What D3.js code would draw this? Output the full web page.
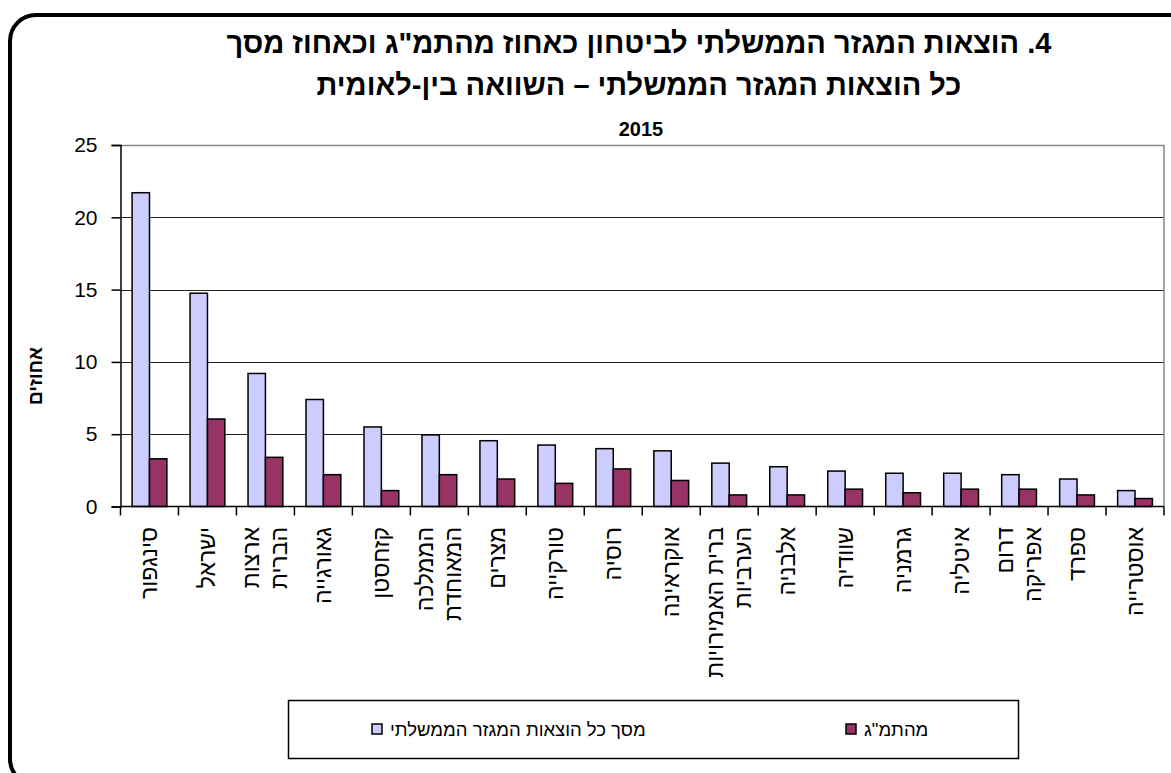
<!DOCTYPE html>
<html>
<head>
<meta charset="utf-8">
<script src="https://cdn.jsdelivr.net/npm/d3@7"></script>
<style>
  body { margin: 0; background: #fff; }
  text { font-family: "Liberation Sans", Arial, "DejaVu Sans", sans-serif; }
</style>
</head>
<body>
<svg id="chart" width="1171" height="773"></svg>
<script>
// countries, in chart order (each entry = lines of the label)
var countries = [
  ['סינגפור'], ['ישראל'], ['ארצות', 'הברית'], ['גאורגייה'], ['קזחסטן'],
  ['הממלכה', 'המאוחדת'], ['מצרים'], ['טורקייה'], ['רוסיה'], ['אוקראינה'],
  ['ברית האמירויות', 'הערביות'], ['אלבניה'], ['שוודיה'], ['גרמניה'],
  ['איטליה'], ['דרום', 'אפריקה'], ['ספרד'], ['אוסטרייה']
];
// % of total government expenditure
var ofGovSpending = [21.7, 14.75, 9.2, 7.4, 5.5, 4.95, 4.55, 4.25, 4.0, 3.85,
  3.0, 2.75, 2.45, 2.3, 2.3, 2.2, 1.9, 1.1];
// % of GDP
var ofGdp = [3.3, 6.05, 3.4, 2.2, 1.1, 2.2, 1.9, 1.6, 2.6, 1.8,
  0.8, 0.8, 1.2, 0.95, 1.2, 1.2, 0.8, 0.55];
var yTicks = [0, 5, 10, 15, 20, 25];
var seriesNames = ['מסך כל הוצאות המגזר הממשלתי', 'מהתמ"ג'];
var seriesColors = ['#ccccff', '#993366'];

var svg = d3.select('#chart');
var plotLeft = 120.5, plotRight = 1164, plotTop = 145, plotBottom = 506.5;

// outer rounded frame
svg.append('rect')
  .attr('x', 10).attr('y', 15)
  .attr('width', 1185).attr('height', 770)
  .attr('rx', 26).attr('ry', 26)
  .attr('fill', 'none').attr('stroke', '#000').attr('stroke-width', 4);

// title
var title = svg.append('text')
  .attr('direction', 'rtl')
  .attr('text-anchor', 'middle')
  .attr('font-weight', 'bold');
title.append('tspan').attr('x', 639).attr('y', 53).attr('font-size', 29)
  .text('4. הוצאות המגזר הממשלתי לביטחון כאחוז מהתמ"ג וכאחוז מסך');
title.append('tspan').attr('x', 639).attr('y', 95).attr('font-size', 29)
  .text('כל הוצאות המגזר הממשלתי – השוואה בין-לאומית');
title.append('tspan').attr('x', 641).attr('y', 136).attr('font-size', 20)
  .text('2015');

var x = d3.scaleBand()
  .domain(d3.range(countries.length))
  .range([plotLeft, plotRight])
  .paddingInner(0.4)
  .paddingOuter(0.2);
var step = x.step();

var y = d3.scaleLinear().domain([0, 25]).range([plotBottom, plotTop]);

// grid lines
svg.append('g').selectAll('line')
  .data(yTicks.filter(function(d) { return d > 0 && d < 25; }))
  .enter().append('line')
  .attr('x1', plotLeft).attr('x2', plotRight)
  .attr('y1', function(d) { return Math.round(y(d)) + 0.5; })
  .attr('y2', function(d) { return Math.round(y(d)) + 0.5; })
  .attr('stroke', '#222').attr('stroke-width', 1);

// plot area top/right border
svg.append('path')
  .attr('d', 'M' + plotLeft + ',' + (plotTop + 0.5) + 'H' + plotRight + 'V' + plotBottom)
  .attr('fill', 'none').attr('stroke', '#888').attr('stroke-width', 1.5);

// bars
var bw = x.bandwidth() / 2;
var series = [ofGovSpending, ofGdp];
series.forEach(function(vals, s) {
  svg.append('g').selectAll('rect')
    .data(vals)
    .enter().append('rect')
    .attr('x', function(d, i) { return x(i) + s * bw; })
    .attr('y', function(d) { return y(d); })
    .attr('width', bw)
    .attr('height', function(d) { return y(0) - y(d); })
    .attr('fill', seriesColors[s])
    .attr('stroke', '#000').attr('stroke-width', 1.5);
});

// y axis
var yAxis = svg.append('g')
  .attr('transform', 'translate(' + plotLeft + ',0)')
  .call(d3.axisLeft(y).tickValues(yTicks).tickSize(9).tickPadding(14));
yAxis.select('.domain').attr('stroke', '#000').attr('stroke-width', 1.5);
yAxis.selectAll('.tick line').attr('stroke', '#000').attr('stroke-width', 1.5);
yAxis.selectAll('.tick text')
  .attr('font-size', 21)
  .style('font-family', '"Liberation Sans", Arial, sans-serif')
  .attr('fill', '#000');

// x axis: ticks between categories
var xBounds = d3.range(countries.length + 1).map(function(i) { return plotLeft + i * step; });
var xAxis = svg.append('g');
xAxis.append('line')
  .attr('x1', plotLeft).attr('x2', plotRight)
  .attr('y1', plotBottom).attr('y2', plotBottom)
  .attr('stroke', '#000').attr('stroke-width', 1.5);
xAxis.selectAll('.xt')
  .data(xBounds)
  .enter().append('line')
  .attr('x1', function(d) { return d; }).attr('x2', function(d) { return d; })
  .attr('y1', plotBottom).attr('y2', plotBottom + 9)
  .attr('stroke', '#000').attr('stroke-width', 1.5);

// category labels, rotated
var lineH = 28;
var labels = svg.append('g').selectAll('g')
  .data(countries)
  .enter().append('g')
  .attr('transform', function(d, i) {
    return 'translate(' + (x(i) + x.bandwidth() / 2) + ',527) rotate(-90)';
  });
labels.append('text')
  .attr('direction', 'rtl')
  .attr('text-anchor', 'start')
  .attr('font-size', 23)
  .each(function(lines) {
    var t = d3.select(this);
    lines.forEach(function(line, k) {
      var off = (k - (lines.length - 1) / 2) * lineH + 8;
      t.append('tspan').attr('x', 0).attr('y', off).text(line);
    });
  });

// y axis title
svg.append('text')
  .attr('transform', 'translate(42,376) rotate(-90)')
  .attr('direction', 'rtl')
  .attr('text-anchor', 'middle')
  .attr('font-weight', 'bold')
  .attr('font-size', 19)
  .text('אחוזים');

// legend
svg.append('rect')
  .attr('x', 288.5).attr('y', 700.5)
  .attr('width', 730).attr('height', 58)
  .attr('fill', '#fff').attr('stroke', '#000').attr('stroke-width', 1.5);
var legendX = [372, 846];
seriesNames.forEach(function(name, s) {
  svg.append('rect')
    .attr('x', legendX[s]).attr('y', 724)
    .attr('width', 10).attr('height', 10)
    .attr('fill', seriesColors[s]).attr('stroke', '#000').attr('stroke-width', 1.5);
  svg.append('text')
    .attr('direction', 'rtl')
    .attr('text-anchor', 'end')
    .attr('x', legendX[s] + 18).attr('y', 736)
    .attr('font-size', 18.5)
    .text(name);
});
</script>
</body>
</html>
